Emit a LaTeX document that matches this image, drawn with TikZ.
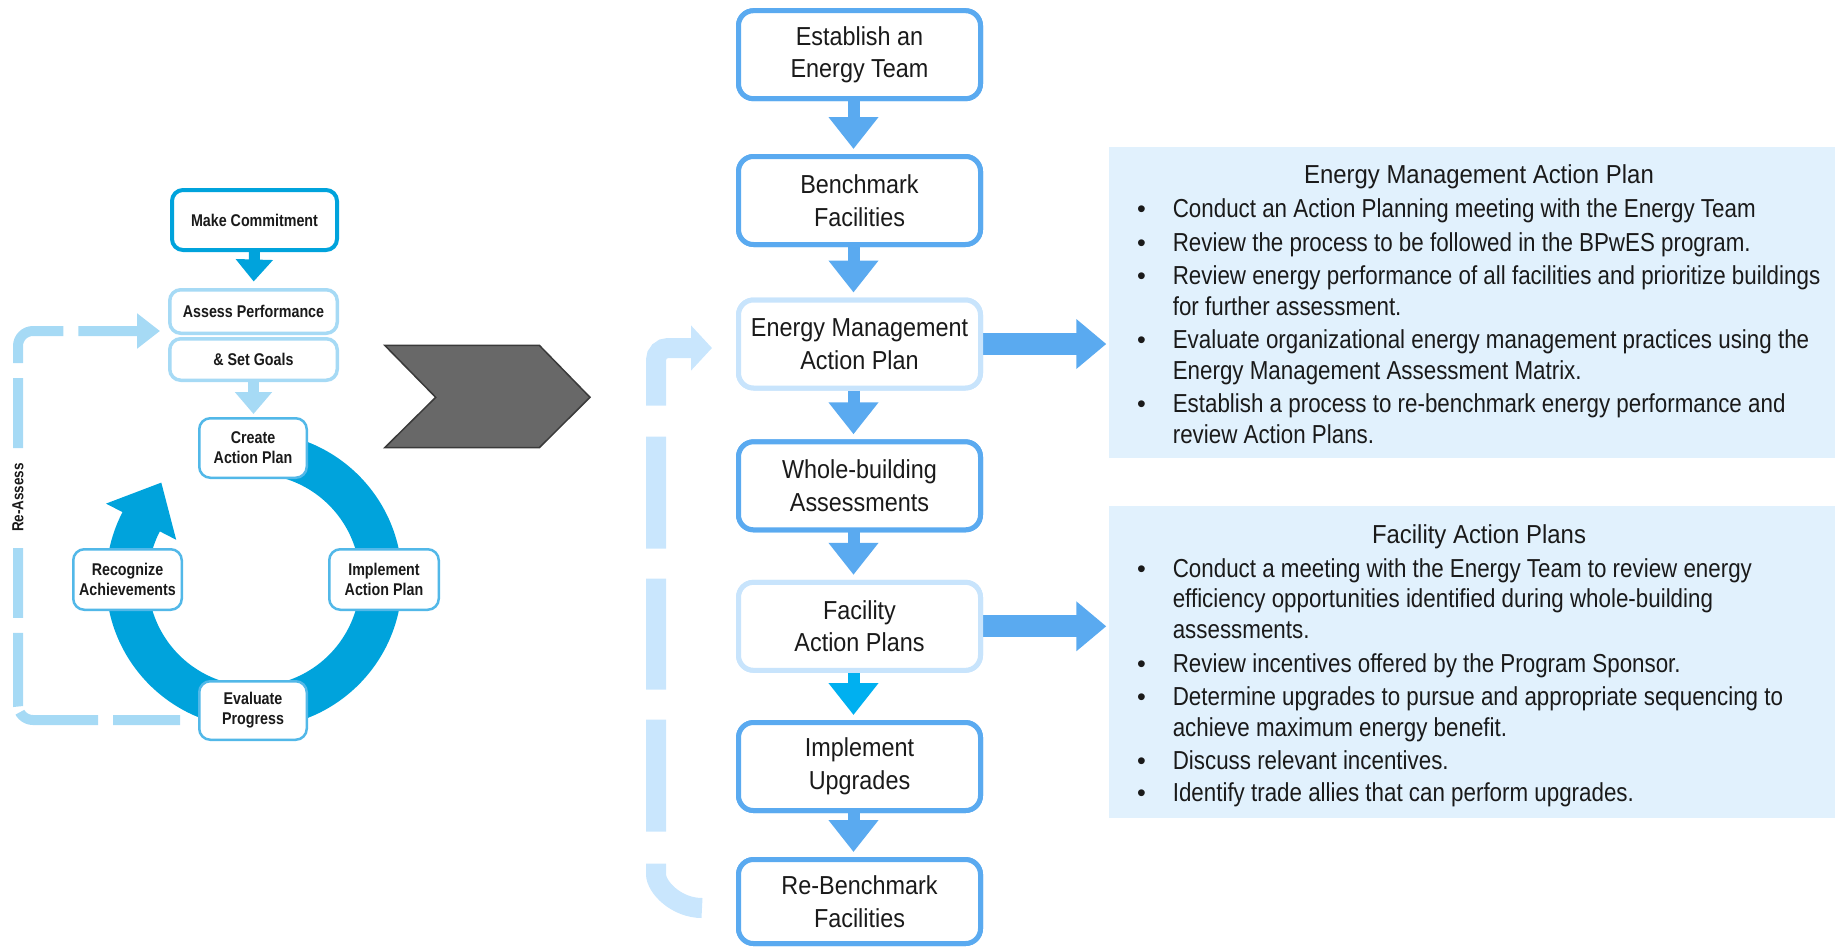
\documentclass[tikz,border=0pt]{standalone}
\usepackage{fontspec}
\setmainfont{Liberation Sans}
\newfontfamily\boxfont[FakeStretch=0.9]{Liberation Sans}
\newfontfamily\listfont[FakeStretch=0.86]{Liberation Sans}
\newfontfamily\headfont[FakeStretch=0.92]{Liberation Sans}
\newfontfamily\cyclefont[FakeStretch=0.84]{Liberation Sans}
\newfontfamily\dotfont{Liberation Sans}
\usetikzlibrary{arrows.meta,calc}

\definecolor{ringblue}{HTML}{00A3DC}
\definecolor{leftmid}{HTML}{52B8E8}
\definecolor{leftlight}{HTML}{A6DAF5}
\definecolor{midblue}{HTML}{5AAAF0}
\definecolor{midlight}{HTML}{C8E4FC}
\definecolor{brightblue}{HTML}{00B0F0}
\definecolor{loopblue}{HTML}{C9E6FD}
\definecolor{panel}{HTML}{E1F1FD}
\definecolor{chevfill}{HTML}{686868}
\definecolor{chevedge}{HTML}{3A3A3A}
\definecolor{ink}{HTML}{1A1A1A}

\newcommand{\itemdot}{\makebox[35.6pt][l]{\dotfont\fontsize{25}{25}\selectfont\textbullet}}

\begin{document}
\begin{tikzpicture}[x=1pt,y=-1pt,
  cyclebox/.style={draw=leftmid, line width=2.5pt, fill=white, rounded corners=11pt,
    inner sep=0pt, align=center, text=ink,
    font=\cyclefont\bfseries\fontsize{17}{20}\selectfont},
  goalbox/.style={cyclebox, draw=leftlight, line width=3.5pt, minimum width=167.5pt},
  midbox/.style={draw=midblue, line width=5pt, fill=white, rounded corners=15pt,
    minimum width=242pt, minimum height=88pt, inner sep=0pt, align=center, text=ink,
    font=\boxfont\fontsize{26}{32.5}\selectfont},
  midboxlight/.style={midbox, draw=midlight},
  panelbox/.style={fill=panel, inner sep=0pt, minimum width=733pt},
  paneltitle/.style={anchor=base, inner sep=0pt, text=ink,
    font=\headfont\fontsize{26}{31}\selectfont},
  panelline/.style={anchor=base west, inner sep=0pt, text=ink,
    font=\listfont\fontsize{26}{31}\selectfont},
  downarrow/.style={midblue, line width=12pt, -{Triangle[length=32pt,width=48pt]}, shorten >=5pt},
  sidearrow/.style={midblue, line width=22pt, -{Triangle[length=30pt,width=48pt]}, shorten >=2pt},
  cyclearrow/.style={line width=11pt, -{Triangle[length=22pt,width=36pt]}},
]
\useasboundingbox (0,0) rectangle (1835,948);

% ---------- cycle on the left ----------
\coordinate (cyc) at (254,580);
\draw[ringblue, line width=42pt] (cyc) ++(-90:127) arc[start angle=-90, end angle=208, radius=127];
\fill[ringblue] (161.3,482.6) -- (106,503.6) -- (176.2,539.8) -- cycle;

% re-assess loop
\coordinate (ra1) at (180,720);
\coordinate (ra2) at (18,720);
\coordinate (ra3) at (18,331);
\coordinate (ra4) at (160,331);
\draw[leftlight, line width=10pt, rounded corners=15pt,
  dash pattern=on 67pt off 15pt on 81pt off 6pt on 73.6pt off 15pt on 69.7pt off 100pt on 70pt off 15pt on 71.2pt off 15pt on 600pt,
  -{Triangle[length=23pt,width=34pt]}]
  (ra1) -- (ra2) -- (ra3) -- (ra4);
\node[rotate=90, inner sep=0pt, text=ink, font=\cyclefont\bfseries\fontsize{16}{18}\selectfont]
  (reassess) at (18,497.5) {Re-Assess};

\node[cyclebox, draw=ringblue, line width=4pt, minimum width=165pt, minimum height=60pt]
  (mc) at (254.5,220) {Make Commitment};
\node[goalbox, minimum height=43.5pt] (ap) at (253.5,311.5) {Assess Performance};
\node[goalbox, minimum height=41.5pt] (sg) at (253.5,359.5) {\& Set Goals};
\draw[cyclearrow, ringblue, shorten >=6.5pt] (mc.south) -- (ap.north);
\draw[cyclearrow, leftlight, shorten >=3.2pt] (sg.south) -- ++(0,35.2);

\node[cyclebox, minimum width=107.5pt, minimum height=59.5pt] (ca) at (253,448) {Create\\Action Plan};
\node[cyclebox, minimum width=109.5pt, minimum height=60.5pt] (ip) at (384,579.5) {Implement\\Action Plan};
\node[cyclebox, minimum width=107.5pt, minimum height=58.5pt] (ev) at (253,710.5) {Evaluate\\Progress};
\node[cyclebox, minimum width=108.5pt, minimum height=60.5pt] (rc) at (127.5,579.5) {Recognize\\Achievements};

% ---------- chevron between the two parts ----------
\fill[chevfill, draw=chevedge, line width=1.5pt]
  (384.7,345.3) -- (539.3,345.3) -- (590,397.3) -- (539.3,447.7) -- (384.7,447.7) -- (435.7,397.3) -- cycle;

% ---------- detail panels ----------
\node[panelbox, minimum height=311.6pt] (emap) at (1475,302.5) {};
\node[panelbox, minimum height=312.3pt] (fap) at (1475,662.2) {};

\node[paneltitle] (emapt) at (1479,183.3) {Energy Management Action Plan};
\node[panelline] (em1) at (1137,217.3) {\itemdot Conduct an Action Planning meeting with the Energy Team};
\node[panelline] (em2) at (1137,251.7) {\itemdot Review the process to be followed in the BPwES program.};
\node[panelline] (em3) at (1137,284) {\itemdot Review energy performance of all facilities and prioritize buildings};
\node[panelline] (em3b) at (1172.6,315) {for further assessment.};
\node[panelline] (em4) at (1137,348.3) {\itemdot Evaluate organizational energy management practices using the};
\node[panelline] (em4b) at (1172.6,379.3) {Energy Management Assessment Matrix.};
\node[panelline] (em5) at (1137,412.7) {\itemdot Establish a process to re-benchmark energy performance and};
\node[panelline] (em5b) at (1172.6,443.3) {review Action Plans.};

\node[paneltitle] (fapt) at (1479,543.3) {Facility Action Plans};
\node[panelline] (fa1) at (1137,577.3) {\itemdot Conduct a meeting with the Energy Team to review energy};
\node[panelline] (fa1b) at (1172.6,607.3) {efficiency opportunities identified during whole-building};
\node[panelline] (fa1c) at (1172.6,638.3) {assessments.};
\node[panelline] (fa2) at (1137,672.7) {\itemdot Review incentives offered by the Program Sponsor.};
\node[panelline] (fa3) at (1137,705) {\itemdot Determine upgrades to pursue and appropriate sequencing to};
\node[panelline] (fa3b) at (1172.6,736) {achieve maximum energy benefit.};
\node[panelline] (fa4) at (1137,769.3) {\itemdot Discuss relevant incentives.};
\node[panelline] (fa5) at (1137,801.7) {\itemdot Identify trade allies that can perform upgrades.};

% ---------- process column ----------
\coordinate (ml1) at (702,908);
\coordinate (ml2) at (656,862);
\coordinate (ml3) at (656,348);
\coordinate (ml4) at (712,348);
\draw[loopblue, line width=20pt, rounded corners=12pt,
  dash pattern=on 72.3pt off 32pt on 112pt off 30pt on 111pt off 30pt on 112pt off 31pt on 1000pt,
  -{Triangle[length=21pt,width=44pt]}]
  (ml1) .. controls (676.6,908) and (656,887.4) .. (ml2) -- (ml3) -- (ml4);

\coordinate (est0) at (859.5,54.7);
\node[midbox] (est) at (est0) {};
\node[midbox] (bm) at (859.5,200.5) {};
\node[midboxlight] (em) at (859.5,344) {};
\node[midbox] (wb) at (859.5,485.8) {};
\node[midboxlight] (fa) at (859.5,626.3) {};
\node[midbox] (iu) at (859.5,766.5) {};
\node[midbox, minimum height=84pt] (rb) at (859.5,901.5) {};

\foreach \a/\b in {est/bm, bm/em, em/wb, wb/fa, iu/rb}
  \draw[downarrow] ($(\a.south)+(-6,0)$) -- ($(\b.north)+(-6,0)$);
\draw[downarrow, brightblue] ($(fa.south)+(-6,0)$) -- ($(iu.north)+(-6,0)$);
\draw[sidearrow] (em.east) -- (em.east -| emap.west);
\draw[sidearrow] (fa.east) -- (fa.east -| fap.west);

\node[midbox] (estT) at (est0) {Establish an\\Energy Team};
\node[midbox] (bmT) at (bm) {Benchmark\\Facilities};
\node[midboxlight] (emT) at (em) {Energy Management\\Action Plan};
\node[midbox] (wbT) at (wb) {Whole-building\\Assessments};
\node[midboxlight] (faT) at (fa) {Facility\\Action Plans};
\node[midbox] (iuT) at (iu) {Implement\\Upgrades};
\node[midbox, minimum height=84pt] (rbT) at (rb) {Re-Benchmark\\Facilities};
\end{tikzpicture}
\end{document}
